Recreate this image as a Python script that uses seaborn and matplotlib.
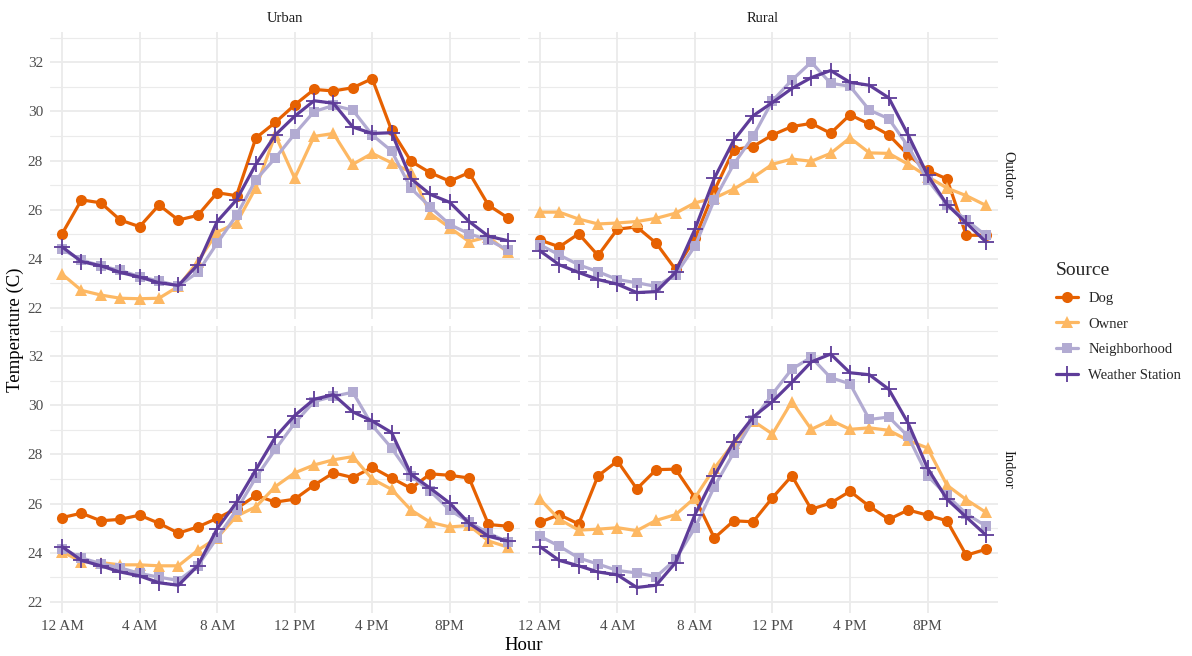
import matplotlib
matplotlib.use("Agg")
import matplotlib.pyplot as plt
from matplotlib.ticker import MultipleLocator
import seaborn as sns
import pandas as pd

hours = list(range(24))
sources = ["Dog", "Owner", "Neighborhood", "Weather Station"]
locations = ["Urban", "Rural"]
settings = ["Outdoor", "Indoor"]
x_ticks = [0, 4, 8, 12, 16, 20]
x_tick_labels = ["12 AM", "4 AM", "8 AM", "12 PM", "4 PM", "8PM"]
y_ticks = [22, 24, 26, 28, 30, 32]

urban_outdoor_dog = [25.02, 26.40, 26.28, 25.58, 25.31, 26.19, 25.58, 25.77, 26.69, 26.57, 28.92, 29.55,
                     30.26, 30.89, 30.83, 30.96, 31.33, 29.23, 27.97, 27.50, 27.16, 27.51, 26.18, 25.67]
urban_outdoor_owner = [23.38, 22.72, 22.53, 22.40, 22.38, 22.40, 22.88, 23.89, 25.08, 25.46, 26.90, 29.04,
                       27.28, 28.98, 29.10, 27.85, 28.29, 27.91, 27.53, 25.84, 25.27, 24.70, 24.90, 24.26]
urban_outdoor_neigh = [24.39, 23.95, 23.72, 23.53, 23.28, 23.10, 22.90, 23.45, 24.64, 25.77, 27.22, 28.10,
                       29.08, 29.99, 30.24, 30.05, 29.04, 28.39, 26.87, 26.11, 25.40, 25.02, 24.77, 24.36]
urban_outdoor_ws = [24.49, 23.89, 23.72, 23.45, 23.26, 23.03, 22.92, 23.76, 25.52, 26.40, 27.85, 29.04,
                    29.80, 30.43, 30.33, 29.36, 29.10, 29.13, 27.26, 26.62, 26.30, 25.52, 24.92, 24.74]

rural_outdoor_dog = [24.77, 24.49, 25.02, 24.14, 25.21, 25.30, 24.64, 23.57, 24.83, 26.78, 28.44, 28.57,
                     29.04, 29.38, 29.51, 29.11, 29.86, 29.48, 29.04, 28.23, 27.60, 27.25, 24.96, 24.96]
rural_outdoor_owner = [25.90, 25.90, 25.62, 25.42, 25.46, 25.52, 25.65, 25.86, 26.28, 26.47, 26.84, 27.31,
                       27.85, 28.06, 27.97, 28.29, 28.92, 28.31, 28.29, 27.85, 27.35, 26.88, 26.57, 26.18]
rural_outdoor_neigh = [24.58, 24.16, 23.76, 23.48, 23.16, 23.03, 22.88, 23.36, 24.52, 26.40, 27.85, 28.98,
                       30.43, 31.27, 32.00, 31.14, 31.02, 30.05, 29.70, 28.57, 27.22, 26.21, 25.58, 24.96]
rural_outdoor_ws = [24.33, 23.76, 23.45, 23.16, 22.97, 22.63, 22.67, 23.45, 25.21, 27.28, 28.82, 29.82,
                    30.36, 30.93, 31.37, 31.66, 31.18, 31.06, 30.55, 29.04, 27.41, 26.21, 25.46, 24.70]

urban_indoor_dog = [25.43, 25.61, 25.30, 25.36, 25.53, 25.20, 24.80, 25.05, 25.40, 25.80, 26.33, 26.06,
                    26.18, 26.75, 27.25, 27.06, 27.47, 27.04, 26.62, 27.21, 27.15, 27.04, 25.15, 25.08]
urban_indoor_owner = [24.04, 23.64, 23.60, 23.51, 23.51, 23.47, 23.47, 24.10, 24.61, 25.49, 25.87, 26.69,
                      27.25, 27.57, 27.78, 27.91, 27.00, 26.58, 25.74, 25.24, 25.05, 25.11, 24.48, 24.23]
urban_indoor_neigh = [24.17, 23.79, 23.56, 23.39, 23.16, 23.01, 22.87, 23.47, 24.61, 25.74, 27.06, 28.20,
                      29.27, 30.15, 30.36, 30.53, 29.18, 28.26, 27.13, 26.50, 25.74, 25.24, 24.80, 24.44]
urban_indoor_ws = [24.25, 23.69, 23.47, 23.22, 23.06, 22.78, 22.68, 23.47, 24.98, 26.05, 27.38, 28.70,
                   29.58, 30.24, 30.43, 29.73, 29.36, 28.89, 27.19, 26.62, 26.02, 25.20, 24.67, 24.48]

rural_indoor_dog = [25.24, 25.55, 25.17, 27.13, 27.73, 26.60, 27.38, 27.40, 26.24, 24.60, 25.30, 25.26,
                    26.24, 27.13, 25.77, 26.02, 26.50, 25.89, 25.36, 25.74, 25.53, 25.30, 23.90, 24.14]
rural_indoor_owner = [26.18, 25.36, 24.92, 24.96, 25.02, 24.90, 25.32, 25.55, 26.24, 27.44, 28.46, 29.36,
                      28.83, 30.15, 29.02, 29.39, 29.02, 29.08, 28.98, 28.57, 28.26, 26.75, 26.16, 25.65]
rural_indoor_neigh = [24.67, 24.27, 23.79, 23.54, 23.28, 23.18, 23.03, 23.73, 25.02, 26.69, 28.07, 29.39,
                      30.46, 31.47, 31.95, 31.12, 30.87, 29.42, 29.52, 28.73, 27.13, 26.33, 25.59, 25.09]
rural_indoor_ws = [24.25, 23.69, 23.47, 23.22, 23.10, 22.59, 22.68, 23.60, 25.55, 27.13, 28.51, 29.52,
                   30.15, 30.93, 31.76, 32.08, 31.32, 31.24, 30.65, 29.27, 27.44, 26.18, 25.45, 24.73]

series = {
    ("Outdoor", "Urban"): [urban_outdoor_dog, urban_outdoor_owner, urban_outdoor_neigh, urban_outdoor_ws],
    ("Outdoor", "Rural"): [rural_outdoor_dog, rural_outdoor_owner, rural_outdoor_neigh, rural_outdoor_ws],
    ("Indoor", "Urban"): [urban_indoor_dog, urban_indoor_owner, urban_indoor_neigh, urban_indoor_ws],
    ("Indoor", "Rural"): [rural_indoor_dog, rural_indoor_owner, rural_indoor_neigh, rural_indoor_ws],
}

rows = []
for (setting, loc), vals in series.items():
    for src, v in zip(sources, vals):
        for h, t in zip(hours, v):
            rows.append({"Setting": setting, "Location": loc, "Source": src, "Hour": h, "Temp": t})
df = pd.DataFrame(rows)

colors = {"Dog": "#e66101", "Owner": "#fdb863", "Neighborhood": "#b2abd2", "Weather Station": "#5e3c99"}
markers = {"Dog": "o", "Owner": "^", "Neighborhood": "s", "Weather Station": "+"}
msizes = {"Dog": 8, "Owner": 9, "Neighborhood": 7, "Weather Station": 12}
mews = {"Dog": 0, "Owner": 0, "Neighborhood": 0, "Weather Station": 1.3}

sns.set_theme(style="white")
plt.rcParams['font.family'] = ['Liberation Serif', 'DejaVu Serif']

fig, axes = plt.subplots(2, 2, figsize=(11.92, 6.56), dpi=100, sharex=True, sharey=True)
fig.subplots_adjust(left=0.042, right=0.837, top=0.951, bottom=0.0655, wspace=0.017, hspace=0.024)

grid_col = "#ebebeb"
for i, setting in enumerate(settings):
    for j, loc in enumerate(locations):
        ax = axes[i, j]
        sub = df[(df.Setting == setting) & (df.Location == loc)]
        for src in sources:
            d = sub[sub.Source == src]
            sns.lineplot(data=d, x="Hour", y="Temp", color=colors[src], marker=markers[src],
                         markersize=msizes[src], markeredgecolor=colors[src],
                         markeredgewidth=mews[src], linewidth=2.3, label=src, ax=ax)
        if ax.get_legend() is not None:
            ax.get_legend().remove()
        ax.set_xlim(-0.62, 23.62)
        ax.set_ylim(21.55, 33.22)
        ax.set_xticks(x_ticks)
        ax.set_xticklabels(x_tick_labels)
        ax.set_yticks(y_ticks)
        ax.yaxis.set_minor_locator(MultipleLocator(1))
        ax.set_axisbelow(True)
        ax.grid(which="major", color=grid_col, lw=1.3)
        ax.grid(which="minor", axis="y", color=grid_col, lw=0.8)
        ax.tick_params(which="both", length=0, labelsize=11, labelcolor="#4d4d4d", pad=5)
        for s in ax.spines.values():
            s.set_visible(False)
        ax.set_xlabel("")
        ax.set_ylabel("")
        if i == 0:
            ax.set_title(loc, fontsize=10.5, color="#1a1a1a", pad=7)
        if j == 1:
            ax.text(1.008, 0.5, setting, transform=ax.transAxes, rotation=270,
                    va="center", ha="left", fontsize=10.5, color="#1a1a1a")

fig.text(15 / 1192, 1 - 330 / 656, "Temperature (C)", rotation=90, ha="center", va="center",
         fontsize=13.5, color="black")
fig.text(524 / 1192, 1 - 646 / 656, "Hour", ha="center", va="center", fontsize=13.5, color="black")

handles, labels = axes[0, 0].get_legend_handles_labels()
leg = fig.legend(handles, labels, title="Source", loc="center left",
                 bbox_to_anchor=(1043 / 1192, 1 - 322 / 656), frameon=False, fontsize=10.5,
                 title_fontsize=14, handlelength=1.5, handletextpad=0.7, labelspacing=0.85,
                 alignment="left")

fig.savefig("out.png", dpi=100, facecolor="white")
